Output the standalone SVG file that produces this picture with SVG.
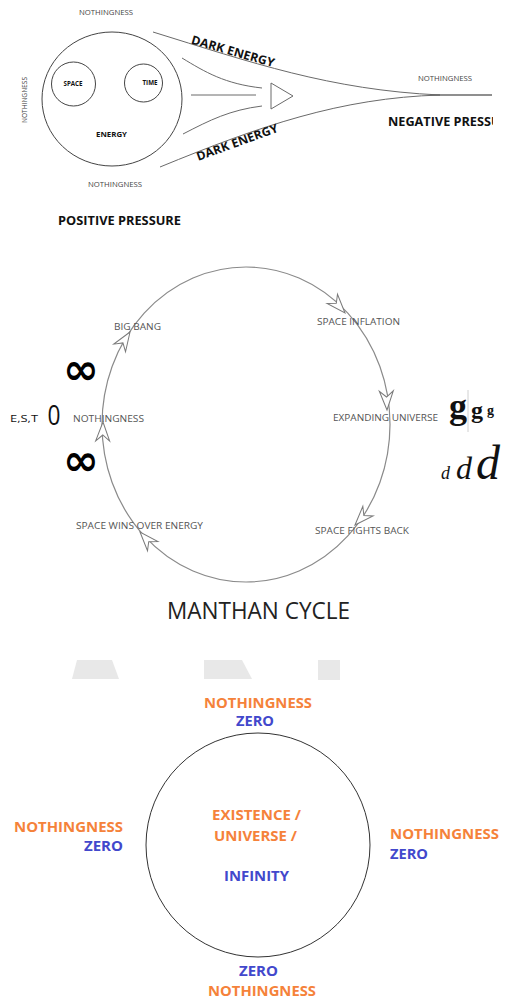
<svg xmlns="http://www.w3.org/2000/svg" xmlns:xlink="http://www.w3.org/1999/xlink" width="507" height="998" viewBox="0 0 507 998">
<style>
.bg{fill:#ffffff}
.ln{fill:none;stroke:#6a6a6a;stroke-width:1}
.circ{fill:none;stroke:#444;stroke-width:1}
.cyc{fill:none;stroke:#8a8a8a;stroke-width:1.2}
.dart{fill:#ffffff;stroke:#7a7a7a;stroke-width:1}
.sm{font-family:"Open Sans","Liberation Sans",sans-serif;font-size:8px;fill:#444}
.cl{font-family:"Open Sans","Liberation Sans",sans-serif;font-size:8.5px;fill:#555}
.nb{font-family:"Open Sans","Liberation Sans",sans-serif;font-weight:bold;fill:#111}
.big{font-family:"Open Sans","Liberation Sans",sans-serif;font-weight:bold;font-size:14.5px}
.or{fill:#F5823A}
.bl{fill:#4248CC}
.ghost{fill:#e8e8e8}
</style>
<defs>
<path id="dart" d="M0,0 L-19,-7 L-13,0 L-19,7 Z"/>
<clipPath id="clipR"><rect x="0" y="0" width="493" height="998"/></clipPath>
</defs>
<rect class="bg" x="0" y="0" width="507" height="998"/>

<!-- Top diagram -->
<g id="connectors">
<path class="ln" d="M153,32 C250,62 330,90 440,95"/>
<path class="ln" d="M160,167 C260,126 340,98 440,95"/>
<path d="M430,95 L492,95" fill="none" stroke="#6a6a6a" stroke-width="1.6"/>
<path class="ln" d="M182,58 C205,72 225,84 262,88"/>
<path class="ln" d="M191,95 L256,95"/>
<path class="ln" d="M183,134 C210,120 230,110 262,106"/>
<polygon class="ln" points="271,83 271,109 293,96"/>
<ellipse class="cyc" cx="246" cy="424.5" rx="144" ry="157.5"/>
<use xlink:href="#dart" class="dart" transform="translate(130,332) rotate(-57)"/>
<use xlink:href="#dart" class="dart" transform="translate(103,422) rotate(-89)"/>
<use xlink:href="#dart" class="dart" transform="translate(345,313) rotate(48)"/>
<use xlink:href="#dart" class="dart" transform="translate(387,410) rotate(88)"/>
<use xlink:href="#dart" class="dart" transform="translate(355,525) rotate(133)"/>
<use xlink:href="#dart" class="dart" transform="translate(140,532) rotate(-132)"/>
</g>

<g id="energy">
<ellipse class="circ" cx="112" cy="99" rx="70" ry="67"/>
<text class="nb" x="111.5" y="137" font-size="7.5" text-anchor="middle" textLength="31" lengthAdjust="spacingAndGlyphs">ENERGY</text>
</g>
<g id="space">
<circle class="circ" cx="73.5" cy="84" r="22"/>
<text class="nb" x="73" y="85.5" font-size="6.5" text-anchor="middle" textLength="19" lengthAdjust="spacingAndGlyphs">SPACE</text>
</g>
<g id="time">
<circle class="circ" cx="143.5" cy="83" r="19"/>
<text class="nb" x="150" y="85" font-size="6.5" text-anchor="middle" textLength="15" lengthAdjust="spacingAndGlyphs">TIME</text>
</g>
<g id="top-labels">
<text class="sm" x="106" y="15" text-anchor="middle" textLength="54" lengthAdjust="spacingAndGlyphs">NOTHINGNESS</text>
<text class="sm" transform="translate(27,100) rotate(-90)" x="0" y="0" text-anchor="middle" textLength="46" lengthAdjust="spacingAndGlyphs">NOTHINGNESS</text>
<text class="sm" x="115" y="187" text-anchor="middle" textLength="54" lengthAdjust="spacingAndGlyphs">NOTHINGNESS</text>
<text class="sm" x="445" y="81" text-anchor="middle" textLength="54" lengthAdjust="spacingAndGlyphs">NOTHINGNESS</text>
<text class="nb" transform="translate(233,51) rotate(16)" x="0" y="4.5" font-size="12" text-anchor="middle" textLength="86" lengthAdjust="spacingAndGlyphs">DARK ENERGY</text>
<text class="nb" transform="translate(237,142) rotate(-20)" x="0" y="4.5" font-size="12" text-anchor="middle" textLength="86" lengthAdjust="spacingAndGlyphs">DARK ENERGY</text>
<text class="nb" x="119.5" y="224.5" font-size="12.5" text-anchor="middle" textLength="123" lengthAdjust="spacingAndGlyphs">POSITIVE PRESSURE</text>
<g clip-path="url(#clipR)">
<text class="nb" x="388" y="126" font-size="13" textLength="128" lengthAdjust="spacingAndGlyphs">NEGATIVE PRESSURE</text>
</g>
</g>

<!-- Cycle -->
<g id="cycle-labels">
<text class="cl" x="114" y="330" textLength="47" lengthAdjust="spacingAndGlyphs">BIG BANG</text>
<text class="cl" x="317" y="325" textLength="83" lengthAdjust="spacingAndGlyphs">SPACE INFLATION</text>
<text class="cl" x="333" y="421" textLength="105" lengthAdjust="spacingAndGlyphs">EXPANDING UNIVERSE</text>
<text class="cl" x="315" y="534" textLength="94" lengthAdjust="spacingAndGlyphs">SPACE FIGHTS BACK</text>
<text class="cl" x="76" y="529" textLength="127" lengthAdjust="spacingAndGlyphs">SPACE WINS OVER ENERGY</text>
<text class="cl" x="73" y="422" textLength="71" lengthAdjust="spacingAndGlyphs">NOTHINGNESS</text>
</g>
<g id="symbols">
<text x="10" y="421.5" font-family="Open Sans, Liberation Sans, sans-serif" font-size="9" fill="#111" textLength="28" lengthAdjust="spacingAndGlyphs">E,S,T</text>
<text x="54" y="424.5" font-family="Open Sans, Liberation Sans, sans-serif" font-size="27" fill="#111" text-anchor="middle" textLength="13" lengthAdjust="spacingAndGlyphs">0</text>
<text x="81" y="384" font-family="DejaVu Sans, sans-serif" font-weight="bold" font-size="43" fill="#000" text-anchor="middle">∞</text>
<text x="81" y="475" font-family="DejaVu Sans, sans-serif" font-weight="bold" font-size="43" fill="#000" text-anchor="middle">∞</text>
<text x="449" y="418" font-family="Liberation Serif, serif" font-weight="bold" font-size="36" fill="#111">g</text>
<line x1="468" y1="390" x2="468" y2="432" stroke="#d0d0d0" stroke-width="1"/>
<text x="471" y="418" font-family="Liberation Serif, serif" font-weight="bold" font-size="24" fill="#111">g</text>
<text x="487" y="415" font-family="Liberation Serif, serif" font-weight="bold" font-size="14" fill="#111">g</text>
<text x="441" y="479" font-family="Liberation Serif, serif" font-style="italic" font-size="18" fill="#111">d</text>
<text x="456" y="479" font-family="Liberation Serif, serif" font-style="italic" font-size="32" fill="#111">d</text>
<text x="476" y="479" font-family="Liberation Serif, serif" font-style="italic" font-size="48" fill="#111">d</text>
</g>
<g id="title">
<text x="258.5" y="619" font-family="Open Sans, Liberation Sans, sans-serif" font-size="24" fill="#222" text-anchor="middle" textLength="183" lengthAdjust="spacingAndGlyphs">MANTHAN CYCLE</text>
</g>
<g id="ghost-shapes">
<polygon class="ghost" points="77,660 112,660 119,679 72,679"/>
<polygon class="ghost" points="204,660 242,660 252,679 204,679"/>
<rect class="ghost" x="318" y="660" width="22" height="20"/>
</g>

<!-- Bottom diagram -->
<g id="existence">
<circle cx="258" cy="845" r="112" fill="none" stroke="#333" stroke-width="1"/>
<text class="big or" x="212" y="819.5" textLength="89" lengthAdjust="spacingAndGlyphs">EXISTENCE /</text>
<text class="big or" x="214" y="841" textLength="83" lengthAdjust="spacingAndGlyphs">UNIVERSE /</text>
<text class="big bl" x="224" y="880.5" textLength="65" lengthAdjust="spacingAndGlyphs">INFINITY</text>
</g>
<g id="n-top">
<text class="big or" x="204" y="707.5" textLength="108" lengthAdjust="spacingAndGlyphs">NOTHINGNESS</text>
<text class="big bl" x="236" y="725.5" textLength="38" lengthAdjust="spacingAndGlyphs">ZERO</text>
</g>
<g id="n-left">
<text class="big or" x="14" y="832" textLength="109" lengthAdjust="spacingAndGlyphs">NOTHINGNESS</text>
<text class="big bl" x="84" y="850.5" textLength="39" lengthAdjust="spacingAndGlyphs">ZERO</text>
</g>
<g id="n-right">
<text class="big or" x="390" y="838.5" textLength="109" lengthAdjust="spacingAndGlyphs">NOTHINGNESS</text>
<text class="big bl" x="390" y="858.5" textLength="38" lengthAdjust="spacingAndGlyphs">ZERO</text>
</g>
<g id="n-bottom">
<text class="big bl" x="239" y="976" textLength="39" lengthAdjust="spacingAndGlyphs">ZERO</text>
<text class="big or" x="208" y="995.5" textLength="108" lengthAdjust="spacingAndGlyphs">NOTHINGNESS</text>
</g>
</svg>
